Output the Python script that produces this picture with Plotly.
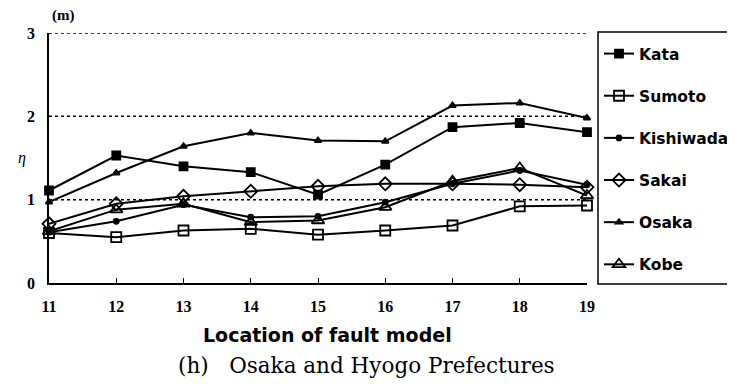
import plotly.graph_objects as go

locations = [11, 12, 13, 14, 15, 16, 17, 18, 19]
kata      = [1.11, 1.53, 1.40, 1.33, 1.06, 1.42, 1.87, 1.92, 1.81]
sumoto    = [0.60, 0.55, 0.63, 0.65, 0.58, 0.63, 0.69, 0.92, 0.93]
kishiwada = [0.61, 0.74, 0.94, 0.79, 0.80, 0.97, 1.19, 1.35, 1.18]
sakai     = [0.71, 0.95, 1.04, 1.10, 1.16, 1.19, 1.19, 1.18, 1.15]
osaka     = [0.97, 1.32, 1.64, 1.80, 1.71, 1.70, 2.13, 2.16, 1.98]
kobe      = [0.62, 0.88, 0.95, 0.73, 0.75, 0.91, 1.22, 1.38, 1.05]
y_ticks = [0, 1, 2, 3]
grid_levels = [1, 2, 3]

series = [
    ("Kata", kata, "square", 8),
    ("Sumoto", sumoto, "square-open", 10),
    ("Kishiwada", kishiwada, "circle", 5),
    ("Sakai", sakai, "diamond-open", 10),
    ("Osaka", osaka, "triangle-up", 6),
    ("Kobe", kobe, "triangle-up-open", 11),
]

fig = go.Figure()
for i, (name, vals, sym, sz) in enumerate(series):
    fig.add_trace(go.Scatter(
        x=locations, y=vals, name=name, mode="lines+markers",
        line=dict(color="black", width=2),
        marker=dict(symbol=sym, size=sz, color="black",
                    line=dict(color="black", width=1.8)),
        legendgroup=name, cliponaxis=False,
    ))

# page body has an 8px default margin; compensate so the chart lands where the reference has it
OFF = 8
W, H = 735 - OFF, 384 - OFF
L, T = 49 - OFF, 33 - OFF
pw, ph = 538, 250
R = W - L - pw
B = H - T - ph

def px_x(sx):
    return (sx - OFF - L) / pw

shapes = [dict(type="rect", xref="paper", yref="paper",
               x0=px_x(598), x1=px_x(734), y0=-0.004, y1=1.004,
               line=dict(color="black", width=1.5))]
for g in grid_levels:
    shapes.append(dict(type="line", xref="paper", yref="y", x0=0, x1=1, y0=g, y1=g,
                       line=dict(color="black", width=1.5, dash="dot"), layer="below"))

fig.update_layout(
    width=W, height=H,
    margin=dict(l=L, r=R, t=T, b=B, autoexpand=False),
    paper_bgcolor="white", plot_bgcolor="white",
    showlegend=True,
    legend=dict(
        x=px_x(599), y=1 - 4 / ph, xanchor="left", yanchor="top",
        bgcolor="rgba(0,0,0,0)", borderwidth=0,
        font=dict(family="DejaVu Sans", size=15.5, color="black", weight="bold"),
        tracegroupgap=19, itemwidth=30,
    ),
    xaxis=dict(
        range=[11, 19], tickvals=locations, ticktext=[str(v) for v in locations],
        showline=True, linecolor="black", linewidth=1.5,
        ticks="inside", ticklen=5, tickcolor="black", tickwidth=1.2,
        showgrid=False, zeroline=False,
        tickfont=dict(family="Liberation Serif", size=16, color="black", weight="bold"),
        ticklabelstandoff=8,
    ),
    yaxis=dict(
        range=[0, 3], tickvals=y_ticks, ticktext=[str(v) for v in y_ticks],
        showline=True, linecolor="black", linewidth=1.5,
        ticks="", showgrid=False, zeroline=False,
        tickfont=dict(family="Liberation Serif", size=16, color="black", weight="bold"),
        ticklabelstandoff=9,
    ),
    shapes=shapes,
    annotations=[
        dict(text="(m)", xref="paper", yref="paper", x=0.0, y=1.0, yshift=18, xshift=1,
             xanchor="left", yanchor="middle", showarrow=False,
             font=dict(family="Liberation Serif", size=15, color="black", weight="bold")),
        dict(text="<i>η</i>", xref="paper", yref="paper", x=0.0, y=0.5, xshift=-27,
             xanchor="center", yanchor="middle", showarrow=False,
             font=dict(family="Liberation Serif", size=16, color="black")),
        dict(text="Location of fault model", xref="paper", yref="paper",
             x=px_x(327), y=0, yshift=-52, xanchor="center", yanchor="middle",
             showarrow=False,
             font=dict(family="DejaVu Sans", size=19, color="black", weight="bold")),
        dict(text="(h)   Osaka and Hyogo Prefectures", xref="paper", yref="paper",
             x=px_x(366), y=0, yshift=-82, xanchor="center", yanchor="middle",
             showarrow=False,
             font=dict(family="DejaVu Serif", size=21.5, color="black")),
    ],
)

fig.write_html("out.html")
